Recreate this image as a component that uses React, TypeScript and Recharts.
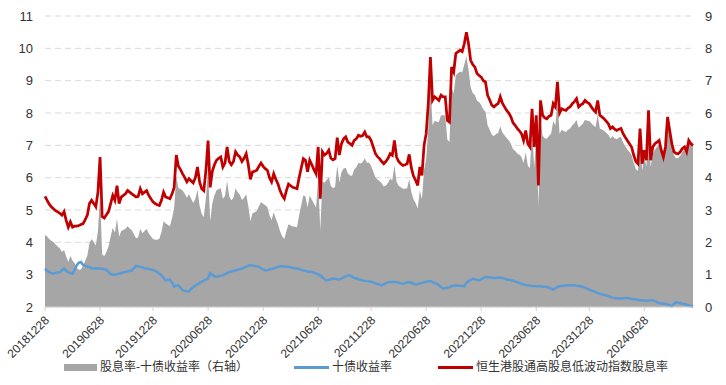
import React from "react";
import {
  Area,
  CartesianGrid,
  ComposedChart,
  Line,
  XAxis,
  YAxis,
} from "recharts";

// weekly samples, 20181228 -> early Dec 2024
const redYield = [
  5.42, 5.3, 5.18, 5.1, 5.04, 4.98, 4.94, 4.9, 4.84, 4.95,
  4.68, 4.47, 4.63, 4.47, 4.5, 4.5, 4.52, 4.55, 4.58, 4.7,
  4.84, 5.2, 5.3, 5.2, 5.1, 5.55, 6.64, 4.8, 4.75, 4.85,
  4.95, 5.2, 5.45, 5.3, 5.75, 5.2, 5.4, 5.45, 5.5, 5.6,
  5.55, 5.5, 5.45, 5.4, 5.42, 5.66, 5.5, 5.55, 5.6, 5.45,
  5.35, 5.25, 5.2, 5.16, 5.14, 5.3, 5.55, 5.4, 5.38, 5.35,
  5.5, 5.7, 6.7, 6.35, 6.25, 6.12, 6.0, 5.87, 5.97, 5.9,
  5.84, 6.0, 6.33, 5.87, 5.66, 5.6, 6.23, 7.15, 5.7, 6.2,
  6.4, 6.54, 6.6, 6.64, 6.33, 6.45, 6.95, 6.5, 6.4, 6.5,
  6.8, 6.7, 6.64, 6.5, 6.6, 6.74, 6.4, 5.95, 6.18, 6.2,
  6.23, 6.35, 6.45, 6.35, 6.28, 6.23, 6.0, 5.87, 6.12, 5.95,
  5.81, 5.6, 5.45, 5.35, 5.6, 5.8, 5.75, 5.7, 5.68, 5.66,
  6.0, 6.3, 6.59, 6.54, 6.18, 6.54, 6.4, 6.25, 6.12, 6.95,
  5.35, 6.8, 6.7, 6.75, 6.85, 6.6, 6.55, 6.59, 7.24, 6.7,
  7.05, 7.2, 7.26, 7.1, 7.05, 7.0, 7.15, 7.2, 7.31, 7.28,
  7.3, 7.41, 7.26, 7.26, 7.15, 6.95, 6.75, 6.65, 6.59, 6.5,
  6.43, 6.5, 6.6, 6.74, 6.69, 7.15, 6.64, 6.5, 6.43, 6.38,
  6.4, 6.43, 6.72, 6.3, 6.05, 5.92, 5.76, 6.33, 6.07, 7.0,
  7.36, 8.29, 9.73, 8.39, 8.5, 8.45, 8.39, 8.55, 8.5, 8.5,
  7.77, 7.72, 9.42, 9.27, 9.84, 9.89, 9.94, 9.9, 10.14, 10.5,
  10.14, 9.63, 9.5, 9.42, 9.22, 9.16, 9.11, 9.0, 8.96, 8.55,
  8.4, 8.24, 8.19, 8.25, 8.29, 8.5, 8.3, 8.19, 8.08, 8.0,
  7.88, 7.7, 7.62, 7.52, 7.45, 7.36, 7.15, 7.46, 7.05, 6.95,
  8.13, 6.95, 7.93, 5.76, 8.39, 7.93, 7.85, 7.82, 7.9, 7.93,
  8.29, 8.19, 8.96, 8.0, 8.13, 8.1, 8.08, 8.15, 8.19, 8.29,
  8.35, 8.44, 8.19, 8.25, 8.29, 8.39, 8.33, 8.29, 8.19, 8.1,
  8.03, 8.39, 7.93, 7.88, 7.82, 7.75, 7.67, 7.52, 7.57, 7.5,
  7.46, 7.5, 7.52, 7.36, 7.25, 7.15, 7.05, 6.95, 6.7, 6.5,
  6.43, 7.52, 6.43, 6.85, 6.54, 8.08, 6.54, 6.95, 7.05, 7.1,
  7.15, 6.85, 6.64, 6.95, 7.88, 7.46, 7.05, 6.8, 6.75, 6.74,
  6.8, 6.9, 6.95, 6.8, 7.15, 7.05, 7.0,
];

const bondYield = [
  3.19, 3.12, 3.08, 3.05, 3.03, 3.05, 3.07, 3.08, 3.14, 3.19,
  3.12, 3.08, 3.05, 3.03, 3.15, 3.29, 3.37, 3.39, 3.3, 3.27,
  3.25, 3.23, 3.2, 3.19, 3.2, 3.19, 3.19, 3.18, 3.17, 3.15,
  3.08, 3.02, 3.0, 3.0, 3.02, 3.03, 3.05, 3.07, 3.08, 3.1,
  3.12, 3.13, 3.2, 3.27, 3.26, 3.24, 3.22, 3.2, 3.19, 3.18,
  3.16, 3.15, 3.12, 3.08, 3.03, 2.98, 2.9, 2.82, 2.84, 2.85,
  2.75, 2.63, 2.66, 2.67, 2.6, 2.52, 2.5, 2.49, 2.48, 2.55,
  2.62, 2.66, 2.7, 2.74, 2.78, 2.82, 2.85, 2.88, 3.05, 3.0,
  2.95, 2.93, 2.95, 2.97, 2.98, 3.02, 3.05, 3.08, 3.1, 3.12,
  3.13, 3.15, 3.17, 3.19, 3.22, 3.25, 3.28, 3.29, 3.28, 3.27,
  3.26, 3.24, 3.2, 3.16, 3.13, 3.14, 3.16, 3.18, 3.19, 3.22,
  3.24, 3.26, 3.26, 3.25, 3.25, 3.24, 3.23, 3.21, 3.2, 3.19,
  3.17, 3.15, 3.13, 3.12, 3.1, 3.09, 3.08, 3.06, 3.04, 3.01,
  2.98, 2.92, 2.86, 2.82, 2.84, 2.86, 2.88, 2.87, 2.86, 2.85,
  2.88, 2.92, 2.95, 2.97, 2.98, 2.94, 2.9, 2.88, 2.86, 2.84,
  2.82, 2.81, 2.8, 2.79, 2.78, 2.76, 2.74, 2.71, 2.69, 2.67,
  2.7, 2.74, 2.76, 2.77, 2.77, 2.77, 2.77, 2.75, 2.73, 2.72,
  2.74, 2.76, 2.77, 2.75, 2.72, 2.7, 2.71, 2.73, 2.74, 2.76,
  2.78, 2.8, 2.8, 2.77, 2.74, 2.72, 2.67, 2.62, 2.57, 2.58,
  2.6, 2.62, 2.64, 2.66, 2.67, 2.66, 2.66, 2.65, 2.64, 2.75,
  2.8, 2.83, 2.88, 2.86, 2.84, 2.82, 2.86, 2.89, 2.92, 2.93,
  2.92, 2.91, 2.9, 2.9, 2.91, 2.91, 2.9, 2.88, 2.85, 2.84,
  2.83, 2.82, 2.79, 2.77, 2.74, 2.72, 2.7, 2.68, 2.67, 2.66,
  2.65, 2.64, 2.64, 2.64, 2.64, 2.63, 2.63, 2.62, 2.6, 2.57,
  2.54, 2.58, 2.62, 2.64, 2.65, 2.66, 2.67, 2.67, 2.67, 2.67,
  2.67, 2.66, 2.65, 2.64, 2.62, 2.6, 2.57, 2.54, 2.51, 2.49,
  2.46, 2.43, 2.41, 2.39, 2.37, 2.36, 2.34, 2.31, 2.29, 2.28,
  2.27, 2.26, 2.26, 2.27, 2.28, 2.28, 2.26, 2.25, 2.24, 2.23,
  2.22, 2.21, 2.2, 2.2, 2.19, 2.2, 2.21, 2.21, 2.18, 2.15,
  2.12, 2.11, 2.1, 2.1, 2.08, 2.05, 2.02, 2.1, 2.15, 2.13,
  2.12, 2.1, 2.09, 2.07, 2.05, 2.03, 2.0,
];

const tickLabels = [
  "20181228", "20190628", "20191228", "20200628", "20201228", "20210628",
  "20211228", "20220628", "20221228", "20230628", "20231228", "20240628",
];
// sample index that each labelled date falls on
const tickIndex = [0, 26, 51, 77, 103, 129, 154, 180, 206, 232, 257, 283];

const leftTicks = [2, 3, 4, 5, 6, 7, 8, 9, 10, 11];
const rightTicks = [0, 1, 2, 3, 4, 5, 6, 7, 8, 9];

const names = {
  spread: "股息率-十债收益率（右轴）",
  bond: "十债收益率",
  red: "恒生港股通高股息低波动指数股息率",
};

const data = redYield.map((v, i) => ({
  i,
  red: v,
  bond: bondYield[i],
  spread: +(v - bondYield[i]).toFixed(2),
}));

const GREY = "#a6a6a6";
const BLUE = "#5b9bd5";
const RED = "#c00000";
const FONT = "'Liberation Sans', Arial, sans-serif";
const CJK = "'Liberation Sans', 'Noto Sans CJK SC', sans-serif";

const DateTick = (props: any) => {
  const { x, y, payload } = props;
  const label = tickLabels[tickIndex.indexOf(payload.value)];
  return (
    <g transform={`translate(${x + 5},${y + 8}) rotate(-45)`}>
      <text x={0} y={0} textAnchor="end" fontSize={12} fill="#333" fontFamily={FONT}>
        {label}
      </text>
    </g>
  );
};

const LegendRow = () => (
  <div
    style={{
      position: "absolute",
      left: 64,
      top: 359,
      display: "flex",
      gap: 46,
      fontFamily: CJK,
      fontSize: 12,
      color: "#333",
      lineHeight: "16px",
      whiteSpace: "nowrap",
    }}
  >
    <div style={{ display: "flex", alignItems: "center" }}>
      <span style={{ width: 33, height: 7, background: GREY, marginRight: 3 }} />
      {names.spread}
    </div>
    <div style={{ display: "flex", alignItems: "center" }}>
      <span style={{ width: 35, height: 3, background: BLUE, marginRight: 3 }} />
      {names.bond}
    </div>
    <div style={{ display: "flex", alignItems: "center" }}>
      <span style={{ width: 35, height: 3, background: RED, marginRight: 3 }} />
      {names.red}
    </div>
  </div>
);

export default function App() {
  return (
    <div style={{ position: "fixed", left: 0, top: 0, width: 726, height: 385, background: "#fff" }}>
      <ComposedChart
        width={726}
        height={385}
        data={data}
        margin={{ top: 16, right: 0, bottom: 18, left: 0 }}
      >
        <CartesianGrid
          yAxisId="left"
          vertical={false}
          stroke="#d9d9d9"
          strokeDasharray="6 4"
        />
        <XAxis
          type="number"
          dataKey="i"
          domain={[0, redYield.length - 1]}
          ticks={tickIndex}
          interval={0}
          height={60}
          tick={<DateTick />}
          tickSize={4}
          axisLine={{ stroke: "#d0d0d0" }}
          tickLine={{ stroke: "#d0d0d0" }}
        />
        <YAxis
          yAxisId="left"
          orientation="left"
          domain={[2, 11]}
          ticks={leftTicks}
          width={45}
          axisLine={false}
          tickLine={false}
          tickSize={6}
          tickMargin={6}
          tick={{ fontSize: 13, fill: "#333", fontFamily: FONT }}
        />
        <YAxis
          yAxisId="right"
          orientation="right"
          domain={[0, 9]}
          ticks={rightTicks}
          width={33}
          axisLine={false}
          tickLine={false}
          tickSize={6}
          tickMargin={6}
          tick={{ fontSize: 13, fill: "#333", fontFamily: FONT }}
        />
        <Area
          yAxisId="right"
          type="linear"
          dataKey="spread"
          name={names.spread}
          fill={GREY}
          fillOpacity={1}
          stroke="none"
          baseValue={0}
          isAnimationActive={false}
        />
        <Line
          yAxisId="left"
          type="linear"
          dataKey="bond"
          name={names.bond}
          stroke={BLUE}
          strokeWidth={2.5}
          dot={false}
          isAnimationActive={false}
        />
        <Line
          yAxisId="left"
          type="linear"
          dataKey="red"
          name={names.red}
          stroke={RED}
          strokeWidth={2.75}
          dot={false}
          isAnimationActive={false}
        />
      </ComposedChart>
      <LegendRow />
    </div>
  );
}
